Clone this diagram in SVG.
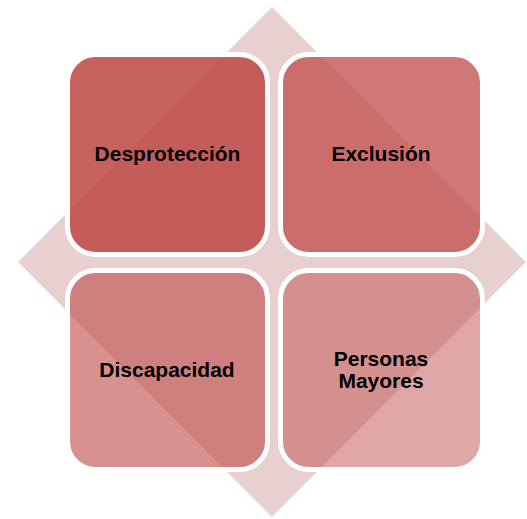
<svg xmlns="http://www.w3.org/2000/svg" width="527" height="519" viewBox="0 0 527 519">
<style>
.bg{fill:#e8cfd0}
.sq{fill:#c0504d;stroke:#ffffff;stroke-width:5}
.lbl{font-family:"Liberation Sans",Arial,sans-serif;font-weight:bold;font-size:21px;fill:#000000;text-anchor:middle}
</style>
<rect width="527" height="519" fill="#ffffff"/>
<g id="diamond">
<polygon class="bg" points="272,7 526,262 272,517 18,262"/>
</g>
<g id="connectors"/>
<g id="node-desproteccion">
<rect class="sq" x="67.5" y="54.5" width="200" height="200" rx="28" fill-opacity="0.9"/>
<text class="lbl" x="167.5" y="161">Desprotección</text>
</g>
<g id="node-exclusion">
<rect class="sq" x="280.5" y="54.5" width="202" height="200" rx="28" fill-opacity="0.767"/>
<text class="lbl" x="381" y="161">Exclusión</text>
</g>
<g id="node-discapacidad">
<rect class="sq" x="67.5" y="270.5" width="200" height="199" rx="28" fill-opacity="0.633"/>
<text class="lbl" x="167" y="377">Discapacidad</text>
</g>
<g id="node-personas-mayores">
<rect class="sq" x="280.5" y="270.5" width="202" height="199" rx="28" fill-opacity="0.5"/>
<text class="lbl" x="381" y="366">Personas</text>
<text class="lbl" x="381" y="388">Mayores</text>
</g>
</svg>
